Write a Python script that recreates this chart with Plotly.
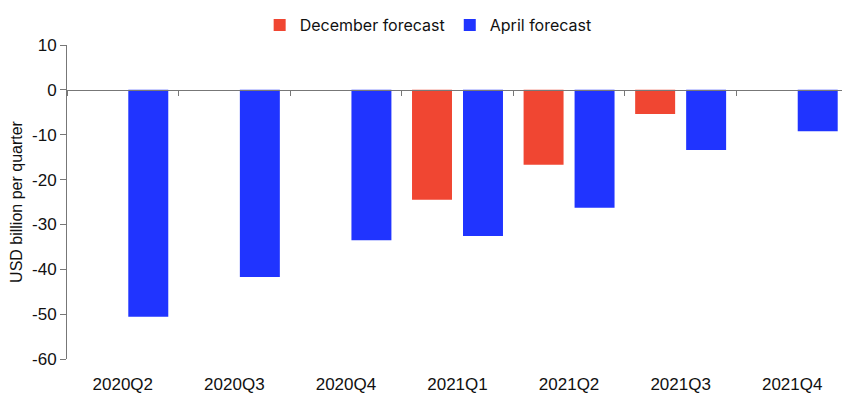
import plotly.graph_objects as go

categories = ["2020Q2", "2020Q3", "2020Q4", "2021Q1", "2021Q2", "2021Q3", "2021Q4"]
december_forecast = [None, None, None, -24.5, -16.7, -5.4, 0]
april_forecast = [-50.6, -41.7, -33.5, -32.6, -26.3, -13.4, -9.2]
y_ticks = [10, 0, -10, -20, -30, -40, -50, -60]
y_tick_labels = ["10", "0", "-10", "-20", "-30", "-40", "-50", "-60"]

RED = "#F04632"
BLUE = "#2034FF"
TXT = "#111"

fig = go.Figure()
fig.add_trace(go.Bar(x=categories, y=december_forecast, name="December forecast",
                     marker=dict(color=RED, line=dict(width=0))))
fig.add_trace(go.Bar(x=categories, y=april_forecast, name="April forecast",
                     marker=dict(color=BLUE, line=dict(width=0))))
# invisible helper trace for the zero-line axis with boundary ticks
fig.add_trace(go.Scatter(x=[-0.5, 6.5], y=[0, 0], xaxis="x2", mode="lines",
                         line=dict(width=0), showlegend=False, hoverinfo="skip"))

# page body has an 8px default margin, so the figure is sized to fit the window
fig.update_layout(
    width=842, height=390,
    margin=dict(l=59, r=2, t=37, b=39),
    paper_bgcolor="white", plot_bgcolor="white",
    barmode="group", bargap=0.086, bargroupgap=0.216,
    font=dict(family="Liberation Sans, Arial, sans-serif", size=17, color=TXT),
    legend=dict(orientation="h", xref="container", yref="container",
                x=0.499, xanchor="center", y=1.0, yanchor="top",
                font=dict(family="Inter, sans-serif", size=16, color=TXT),
                itemwidth=30, tracegroupgap=0),
    xaxis=dict(type="category", categoryorder="array", categoryarray=categories,
               showline=False, showgrid=False, zeroline=False, automargin=False,
               ticks="outside", ticklen=10, tickcolor="rgba(0,0,0,0)",
               tickfont=dict(size=17, color=TXT)),
    xaxis2=dict(overlaying="x", anchor="free", position=60/70, side="bottom",
                range=[-0.5, 6.5], showgrid=False, zeroline=False, automargin=False,
                showline=True, linecolor="#777", linewidth=1,
                tickmode="array", tickvals=[-0.5 + i for i in range(8)],
                ticks="outside", ticklen=5, tickcolor="#777", showticklabels=False),
    yaxis=dict(range=[-60, 10], tickmode="array", tickvals=y_ticks, ticktext=y_tick_labels,
               showgrid=False, zeroline=False, automargin=False,
               showline=True, linecolor="#777", linewidth=1,
               ticks="outside", ticklen=6, tickcolor="#777",
               tickfont=dict(size=17, color=TXT),
               title=dict(text="USD billion per quarter", standoff=6,
                          font=dict(size=16, color=TXT))),
)

fig.write_html("out.html")
